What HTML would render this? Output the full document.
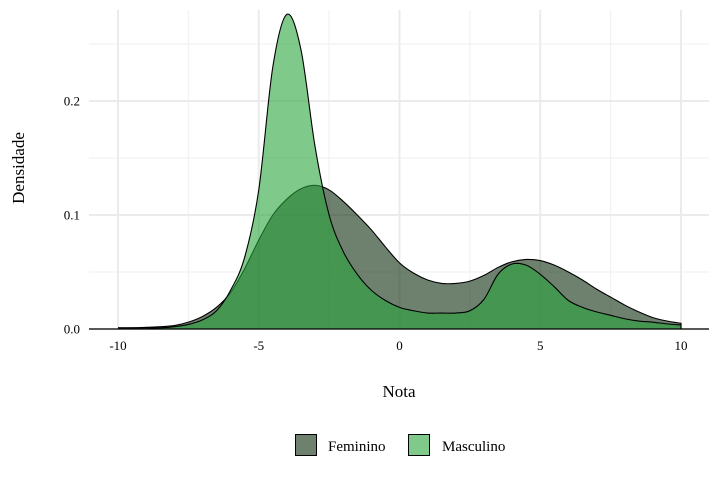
<!DOCTYPE html>
<html><head><meta charset="utf-8"><style>
body{margin:0;background:#fff;}
svg{display:block;font-family:"Liberation Serif","DejaVu Serif",serif;}
</style></head><body>
<svg id="chart" width="720" height="480" viewBox="0 0 720 480">
<g id="grid"></g>
<g id="areas"></g>
<g id="axes"></g>
<text x="399" y="397" text-anchor="middle" font-size="17" fill="#000">Nota</text>
<text transform="translate(24,168) rotate(-90)" text-anchor="middle" font-size="17" fill="#000">Densidade</text>
<g>
<rect x="295.5" y="434.5" width="21" height="21" fill="#6e806e" stroke="#000" stroke-width="1"/>
<text x="328" y="451" font-size="15">Feminino</text>
<rect x="408.5" y="434.5" width="21" height="21" fill="#7fc98b" stroke="#000" stroke-width="1"/>
<text x="442" y="451" font-size="15">Masculino</text>
</g>
</svg>
<script>
const xs=[-10,-9.5,-9,-8.5,-8,-7.5,-7,-6.5,-6,-5.5,-5,-4.5,-4,-3.5,-3,-2.5,-2,-1.5,-1,-0.5,0,0.5,1,1.5,2,2.5,3,3.5,4,4.5,5,5.5,6,6.5,7,7.5,8,8.5,9,9.5,10];
const feminino=[0.001,0.001,0.0015,0.002,0.003,0.006,0.011,0.019,0.032,0.053,0.078,0.1,0.114,0.123,0.126,0.122,0.112,0.1,0.087,0.072,0.058,0.049,0.043,0.04,0.04,0.042,0.047,0.054,0.059,0.061,0.06,0.056,0.05,0.043,0.035,0.028,0.021,0.015,0.01,0.007,0.005];
const masculino=[0.001,0.001,0.001,0.001,0.002,0.004,0.008,0.016,0.034,0.063,0.122,0.23,0.276,0.245,0.16,0.1,0.068,0.048,0.034,0.025,0.019,0.016,0.014,0.014,0.014,0.016,0.026,0.048,0.057,0.056,0.048,0.037,0.025,0.019,0.015,0.012,0.009,0.007,0.006,0.0045,0.0035];
const xTicks=[-10,-5,0,5,10];
const xTickLabels=["-10","-5","0","5","10"];
const yTicks=[0,0.1,0.2];
const yTickLabels=["0.0","0.1","0.2"];
const xMinor=[-7.5,-2.5,2.5,7.5];
const yMinor=[0.05,0.15,0.25];
const sx=v=>118+(v+10)*28.15;
const sy=v=>329-v*1140;
const NS="http://www.w3.org/2000/svg";
function mk(tag,attrs,parent){const e=document.createElementNS(NS,tag);for(const k in attrs)e.setAttribute(k,attrs[k]);parent.appendChild(e);return e;}
const grid=document.getElementById('grid'),areas=document.getElementById('areas'),axes=document.getElementById('axes');
yMinor.forEach(v=>{const l=mk('line',{x1:89,x2:709,y1:sy(v),y2:sy(v),stroke:'#f2f2f2','stroke-width':1.2},grid);

});
xMinor.forEach(v=>{const l=mk('line',{x1:sx(v),x2:sx(v),y1:10,y2:329,stroke:'#f2f2f2','stroke-width':1.2},grid);

});
yTicks.forEach((v,i)=>{const l=mk('line',{x1:89,x2:709,y1:sy(v),y2:sy(v),stroke:'#ebebeb','stroke-width':2},grid);


const t=mk('text',{x:80,y:sy(v)+4.5,'text-anchor':'end','font-size':13},axes);t.textContent=yTickLabels[i];

});
xTicks.forEach((v,i)=>{const l=mk('line',{x1:sx(v),x2:sx(v),y1:10,y2:329,stroke:'#ebebeb','stroke-width':2},grid);


const t=mk('text',{x:sx(v),y:350,'text-anchor':'middle','font-size':13},axes);t.textContent=xTickLabels[i];

});
function smoothPath(ys){const p=xs.map((x,i)=>[sx(x),sy(ys[i])]);let d='M'+p[0][0]+','+p[0][1];
for(let i=0;i<p.length-1;i++){const p0=p[Math.max(0,i-1)],p1=p[i],p2=p[i+1],p3=p[Math.min(p.length-1,i+2)];
const c1=[p1[0]+(p2[0]-p0[0])/6,p1[1]+(p2[1]-p0[1])/6],c2=[p2[0]-(p3[0]-p1[0])/6,p2[1]-(p3[1]-p1[1])/6];
d+=' C'+c1[0]+','+Math.min(c1[1],329)+' '+c2[0]+','+Math.min(c2[1],329)+' '+p2[0]+','+p2[1];}return d;}
function area(ys,fill,name){const d=smoothPath(ys);
const a=mk('path',{d:d+' L'+sx(10)+','+sy(0)+' L'+sx(-10)+','+sy(0)+' Z',fill:fill,'fill-opacity':0.6,stroke:'none'},areas);


const l=mk('path',{d:d+' L'+sx(10)+','+sy(0),fill:'none',stroke:'#000','stroke-width':1.1},areas);

}
area(feminino,'#0d2b0d','feminino');
area(masculino,'#2aa53e','masculino');
const ax=mk('line',{x1:89,x2:709,y1:329,y2:329,stroke:'#000','stroke-width':1.2},axes);


</script>
</body></html>
